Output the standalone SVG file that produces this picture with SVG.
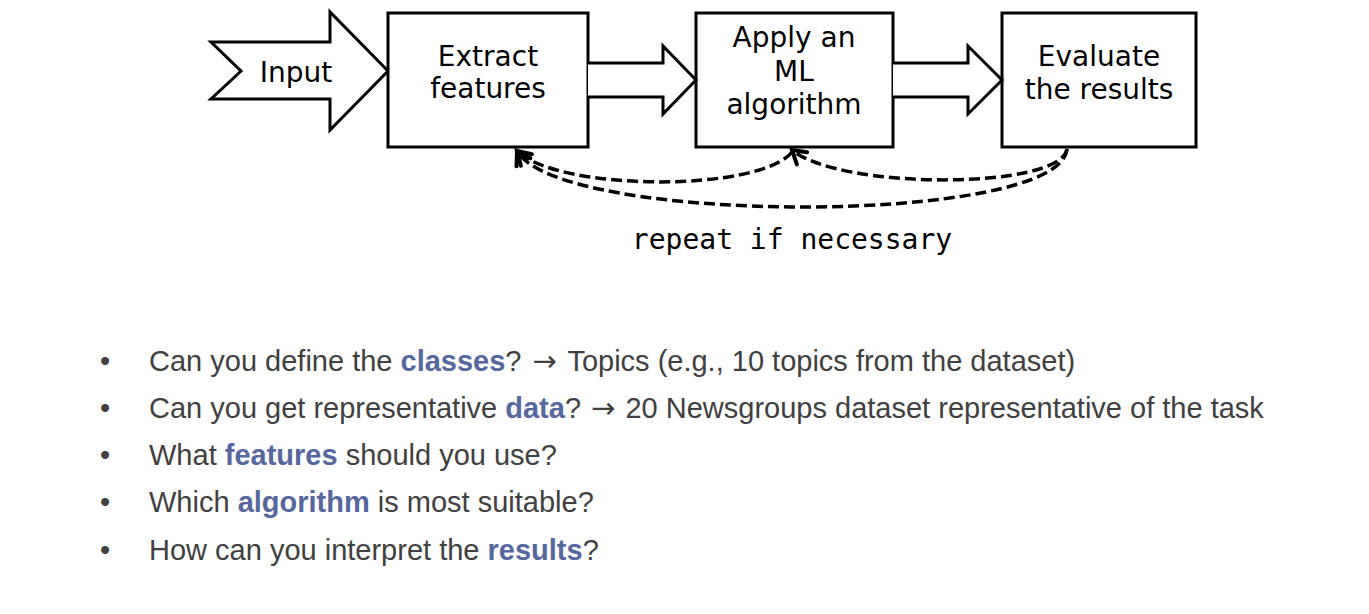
<svg xmlns="http://www.w3.org/2000/svg" width="1369" height="614" viewBox="0 0 1369 614">
<style>
.shape{fill:#fff;stroke:#000;stroke-width:3;stroke-linejoin:miter}
.lbl{font-family:"DejaVu Sans",Verdana,sans-serif;font-size:28px;fill:#000;text-anchor:middle}
.dash{fill:none;stroke:#000;stroke-width:3.5;stroke-dasharray:11 5}
.mono{font-family:"DejaVu Sans Mono","Liberation Mono",monospace;font-size:28px;fill:#000;text-anchor:middle}
.bul{font-family:"Liberation Sans",Arial,sans-serif;font-size:29px;fill:#404040}
.b{font-weight:bold;fill:#56679f}
.ar{font-family:"DejaVu Sans",sans-serif}
</style>
<defs>
<marker id="ah" markerUnits="userSpaceOnUse" markerWidth="40" markerHeight="40" viewBox="-20 -20 40 40" refX="0" refY="0" orient="auto">
<path d="M-13,-8 L0,0 L-13,8" fill="none" stroke="#000" stroke-width="4" stroke-linecap="round" stroke-linejoin="miter"/>
</marker>
</defs>
<rect width="1369" height="614" fill="#fff"/>
<g id="input">
<path class="shape" d="M211,42 L330,42 L330,12 L388,71 L330,130 L330,99 L211,99 L241,71 Z"/>
<text class="lbl" x="296" y="82">Input</text>
</g>
<g id="extract">
<rect class="shape" x="388" y="13" width="200" height="134"/>
<text class="lbl" x="488" y="66">Extract</text>
<text class="lbl" x="488" y="98">features</text>
</g>
<g id="apply">
<rect class="shape" x="696" y="13" width="197" height="134"/>
<text class="lbl" x="794" y="47">Apply an</text>
<text class="lbl" x="794" y="81">ML</text>
<text class="lbl" x="794" y="114">algorithm</text>
</g>
<g id="evaluate">
<rect class="shape" x="1002" y="13" width="194" height="134"/>
<text class="lbl" x="1099" y="66">Evaluate</text>
<text class="lbl" x="1099" y="99">the results</text>
</g>
<g id="connectors">
<path class="shape" d="M588,63 L663,63 L663,46 L696,80 L663,114 L663,97 L588,97"/>
<path class="shape" d="M893,63 L968,63 L968,46 L1002,80 L968,114 L968,97 L893,97"/>
<path class="dash" d="M1067,149 C1060,226 560,226 517,151" marker-end="url(#ah)"/>
<path class="dash" d="M1067,149 C1060,190 840,190 792,150" marker-end="url(#ah)"/>
<path class="dash" d="M792,152 C760,192 560,192 517,151" marker-end="url(#ah)"/>
</g>
<text class="mono" x="792" y="249">repeat if necessary</text>
<g id="bullets" class="bul">
<text x="100" y="371">•</text>
<text x="100" y="418">•</text>
<text x="100" y="465">•</text>
<text x="100" y="512">•</text>
<text x="100" y="560">•</text>
<text x="149" y="371">Can you define the <tspan class="b">classes</tspan>? <tspan class="ar" dx="3">→</tspan><tspan dx="3"> Topics (e.g., 10 topics from the dataset)</tspan></text>
<text x="149" y="418">Can you get representative <tspan class="b">data</tspan>? <tspan class="ar" dx="2">→</tspan><tspan dx="2"> 20 Newsgroups dataset representative of the task</tspan></text>
<text x="149" y="465">What <tspan class="b">features</tspan> should you use?</text>
<text x="149" y="512">Which <tspan class="b">algorithm</tspan> is most suitable?</text>
<text x="149" y="560">How can you interpret the <tspan class="b">results</tspan>?</text>
</g>
</svg>
